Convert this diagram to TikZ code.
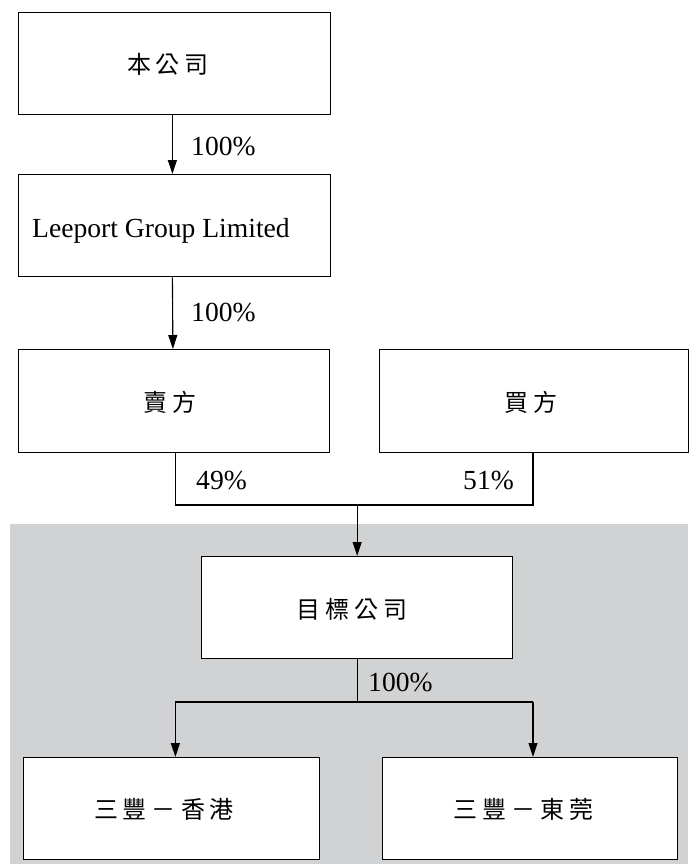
\documentclass[tikz,border=0pt]{standalone}
\usepackage{fontspec}
\setmainfont{Liberation Serif}
\newfontfamily\cjk{Noto Sans CJK TC}
\usetikzlibrary{arrows.meta}
\definecolor{bandgray}{HTML}{D1D2D4}
\newcommand{\cjkgap}{\hspace{5pt}}
\begin{document}
\begin{tikzpicture}[x=1pt,y=-1pt,
  box/.style={draw, line width=1.3pt, fill=white, inner sep=0pt, anchor=north west},
  lbl/.style={font=\fontsize{27.6}{30}\selectfont, inner sep=0pt, anchor=base west},
  cj/.style={font=\cjk\fontsize{24}{27}\selectfont, inner sep=0pt},
  conn/.style={line width=1.1pt},
  arr/.style={conn, -{Triangle[length=14pt,width=9pt]}}]
\useasboundingbox (0,0) rectangle (688,864);
\fill[bandgray] (10,524) rectangle (688,864);
% boxes
\node[box, minimum width=312.5pt, minimum height=102pt] (top) at (17.5,12) {};
\node[box, minimum width=312.5pt, minimum height=102pt] (lee) at (17.5,174) {};
\node[box, minimum width=311.5pt, minimum height=103pt] (sell) at (17.5,349) {};
\node[box, minimum width=309pt, minimum height=103pt] (buy) at (378.5,349) {};
\node[box, minimum width=311pt, minimum height=102pt] (tgt) at (201,556) {};
\node[box, minimum width=296pt, minimum height=102pt] (hk) at (23,757) {};
\node[box, minimum width=295.5pt, minimum height=102pt] (dg) at (381.5,757) {};
% box texts
\node[cj] (ttop) at (168,64) {本\cjkgap 公\cjkgap 司};
\node[lbl] (tlee) at (32,237) {Leeport Group Limited};
\node[cj] (tsell) at (170,402) {賣\cjkgap 方};
\node[cj] (tbuy) at (531,402) {買\cjkgap 方};
\node[cj] (ttgt) at (352,609) {目\cjkgap 標\cjkgap 公\cjkgap 司};
\node[cj] (thk) at (164,809) {三\cjkgap 豐\cjkgap －\cjkgap 香\cjkgap 港};
\node[cj] (tdg) at (523.5,809) {三\cjkgap 豐\cjkgap －\cjkgap 東\cjkgap 莞};
% connectors
\draw[arr] ([xshift=-2pt]top.south) -- ([xshift=-2pt]lee.north);
\draw[arr] ([xshift=-2pt]lee.south) -- ([xshift=-1pt]sell.north);
\coordinate (jl) at (175.4,505);
\coordinate (jr) at (533,505);
\draw[conn] (sell.south -| jl) -- (jl) -- (jr) -- (buy.south -| jr);
\draw[arr] (tgt.north |- jl) -- (tgt.north);
\coordinate (bl) at (175.4,702);
\coordinate (br) at (533,702);
\draw[conn] (tgt.south) -- (tgt.south |- bl);
\draw[conn] (bl) -- (br);
\draw[arr] (bl) -- (hk.north -| bl);
\draw[arr] (br) -- (dg.north -| br);
% percentage labels
\node[lbl] (p1) at (191,155) {100\%};
\node[lbl] (p2) at (191,321) {100\%};
\node[lbl] (p3) at (196,489) {49\%};
\node[lbl] (p4) at (463,489) {51\%};
\node[lbl] (p5) at (368,691) {100\%};
\end{tikzpicture}
\end{document}
